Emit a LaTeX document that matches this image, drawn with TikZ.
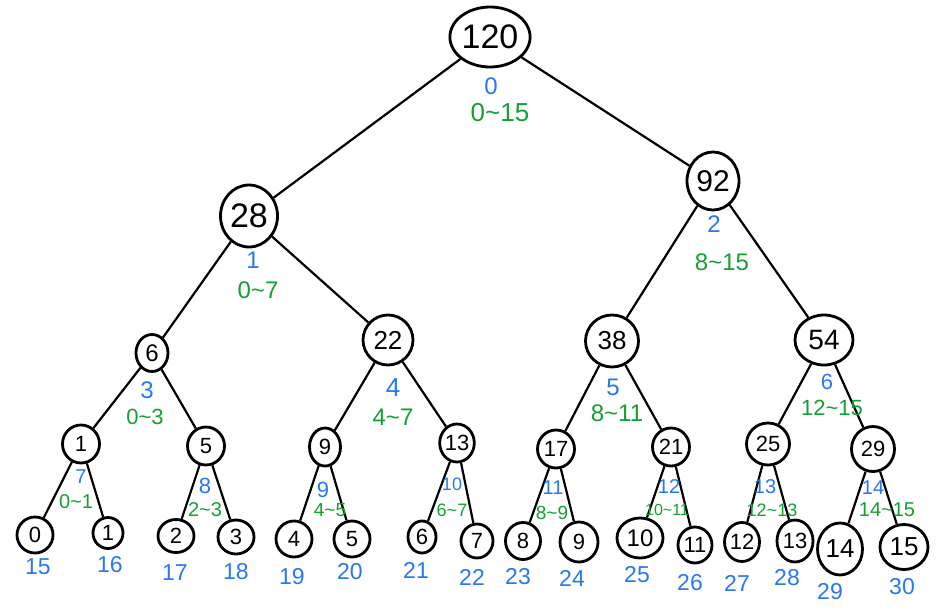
\documentclass[tikz,border=0pt]{standalone}
\usepackage{fontspec}
\setmainfont{Liberation Sans}
\usetikzlibrary{shapes.geometric}
\definecolor{idxblue}{RGB}{40,120,240}
\definecolor{rngreen}{RGB}{20,160,50}
\tikzset{
  tn/.style={draw=black, line width=2.8pt, ellipse, inner sep=0pt, text=black},
  edge/.style={draw=black, line width=2.2pt},
  idx/.style={text=idxblue, inner sep=0pt},
  rng/.style={text=rngreen, inner sep=0pt},
}
\newcommand{\tl}{\textasciitilde}
\begin{document}
\begin{tikzpicture}[x=1pt,y=-1pt]
\useasboundingbox[fill=white] (0,0) rectangle (951,608);
% level 0
\node[tn, minimum width=76pt, minimum height=60pt, font=\fontsize{34}{34}\selectfont] (n0) at (490,37) {120};
% level 1
\node[tn, minimum width=57pt, minimum height=62pt, font=\fontsize{34}{34}\selectfont] (n1) at (249,216) {28};
\node[tn, minimum width=52pt, minimum height=58pt, font=\fontsize{30}{30}\selectfont] (n2) at (713,181) {92};
% level 2
\node[tn, minimum width=32pt, minimum height=37pt, font=\fontsize{24}{24}\selectfont] (n3) at (152,353) {6};
\node[tn, minimum width=50pt, minimum height=50pt, font=\fontsize{26}{26}\selectfont] (n4) at (388,340) {22};
\node[tn, minimum width=53pt, minimum height=52pt, font=\fontsize{26}{26}\selectfont] (n5) at (612,341) {38};
\node[tn, minimum width=58pt, minimum height=50pt, font=\fontsize{28}{28}\selectfont] (n6) at (824,340) {54};
% level 3
\tikzset{l3/.style={tn, minimum width=37pt, minimum height=38pt, font=\fontsize{22}{22}\selectfont}}
\node[l3] (n7) at (81,444) {1};
\node[l3] (n8) at (206,446) {5};
\node[l3, minimum width=31pt] (n9) at (325,447) {9};
\node[l3, minimum width=28pt] (n10) at (457,443) {13};
\node[l3] (n11) at (556,449) {17};
\node[l3] (n12) at (671,447) {21};
\node[l3, minimum width=43pt, minimum height=42pt] (n13) at (768,444) {25};
\node[l3, minimum width=43pt, minimum height=45pt] (n14) at (873,449) {29};
% leaves
\tikzset{lf/.style={tn, minimum width=36pt, minimum height=36pt, font=\fontsize{22}{22}\selectfont}}
\node[lf] (n15) at (35,535) {0};
\node[lf, minimum width=30pt, minimum height=31pt] (n16) at (108,533) {1};
\node[lf, minimum height=33pt] (n17) at (176,536) {2};
\node[lf, minimum height=34pt] (n18) at (236,537) {3};
\node[lf] (n19) at (294,539) {4};
\node[lf] (n20) at (352,539) {5};
\node[lf, minimum width=28pt, minimum height=32pt] (n21) at (422,537) {6};
\node[lf, minimum width=32pt, minimum height=34pt] (n22) at (477,541) {7};
\node[lf, minimum width=35pt, minimum height=37pt] (n23) at (523,541) {8};
\node[lf, minimum width=38pt, minimum height=40pt] (n24) at (579,542) {9};
\node[lf, minimum width=46pt, minimum height=40pt, font=\fontsize{24}{24}\selectfont] (n25) at (640,538) {10};
\node[lf, minimum width=34pt] (n26) at (695,545) {11};
\node[lf, minimum width=35pt, minimum height=39pt] (n27) at (742,542) {12};
\node[lf, minimum width=36pt, minimum height=42pt] (n28) at (795,541) {13};
\node[lf, minimum width=45pt, minimum height=52pt, font=\fontsize{26}{26}\selectfont] (n29) at (840,549) {14};
\node[lf, minimum width=48pt, minimum height=45pt, font=\fontsize{26}{26}\selectfont] (n30) at (904,547) {15};
% edges
\foreach \p/\c in {0/1,0/2,1/3,1/4,2/5,2/6,3/7,3/8,4/9,4/10,5/11,5/12,6/13,6/14,
  7/15,7/16,8/17,8/18,9/19,9/20,10/21,10/22,11/23,11/24,12/25,12/26,13/27,13/28,14/29,14/30}
  \draw[edge] (n\p) -- (n\c);
% index labels (blue)
\node[idx, font=\fontsize{24}{24}\selectfont] (i0) at (491,86) {0};
\node[idx, font=\fontsize{24}{24}\selectfont] (i1) at (253,260) {1};
\node[idx, font=\fontsize{24}{24}\selectfont] (i2) at (714,224) {2};
\node[idx, font=\fontsize{24}{24}\selectfont] (i3) at (147,390) {3};
\node[idx, font=\fontsize{26}{26}\selectfont] (i4) at (393,388) {4};
\node[idx, font=\fontsize{24}{24}\selectfont] (i5) at (613,387) {5};
\node[idx, font=\fontsize{22}{22}\selectfont] (i6) at (827,382) {6};
\node[idx, font=\fontsize{20}{20}\selectfont] (i7) at (81,477) {7};
\node[idx, font=\fontsize{22}{22}\selectfont] (i8) at (205,486) {8};
\node[idx, font=\fontsize{22}{22}\selectfont] (i9) at (323,490) {9};
\node[idx, font=\fontsize{18}{18}\selectfont] (i10) at (452,484) {10};
\node[idx, font=\fontsize{20}{20}\selectfont] (i11) at (553,488) {11};
\node[idx, font=\fontsize{20}{20}\selectfont] (i12) at (669,487) {12};
\node[idx, font=\fontsize{20}{20}\selectfont] (i13) at (765,487) {13};
\node[idx, font=\fontsize{20}{20}\selectfont] (i14) at (873,488) {14};
\tikzset{lidx/.style={idx, font=\fontsize{23}{23}\selectfont}}
\node[lidx] (i15) at (38,567) {15};
\node[lidx] (i16) at (110,565) {16};
\node[lidx] (i17) at (175,573) {17};
\node[lidx] (i18) at (236,572) {18};
\node[lidx] (i19) at (292,577) {19};
\node[lidx] (i20) at (350,572) {20};
\node[lidx] (i21) at (416,570) {21};
\node[lidx] (i22) at (472,577) {22};
\node[lidx] (i23) at (518,577) {23};
\node[lidx] (i24) at (572,578) {24};
\node[lidx] (i25) at (637,575) {25};
\node[lidx] (i26) at (690,583) {26};
\node[lidx] (i27) at (737,583) {27};
\node[lidx] (i28) at (787,578) {28};
\node[lidx] (i29) at (830,592) {29};
\node[lidx] (i30) at (902,587) {30};
% range labels (green)
\node[rng, font=\fontsize{26}{26}\selectfont] (r0) at (500,113) {0\tl15};
\node[rng, font=\fontsize{24}{24}\selectfont] (r1) at (258,290) {0\tl7};
\node[rng, font=\fontsize{24}{24}\selectfont] (r2) at (722,262) {8\tl15};
\node[rng, font=\fontsize{22}{22}\selectfont] (r3) at (145,417) {0\tl3};
\node[rng, font=\fontsize{24}{24}\selectfont] (r4) at (393,417) {4\tl7};
\node[rng, font=\fontsize{24}{24}\selectfont] (r5) at (617,413) {8\tl11};
\node[rng, font=\fontsize{22}{22}\selectfont] (r6) at (832,408) {12\tl15};
\node[rng, font=\fontsize{20}{20}\selectfont] (r7) at (76,502) {0\tl1};
\node[rng, font=\fontsize{20}{20}\selectfont] (r8) at (205,510) {2\tl3};
\node[rng, font=\fontsize{19}{19}\selectfont] (r9) at (330,510) {4\tl5};
\node[rng, font=\fontsize{18}{18}\selectfont] (r10) at (452,510) {6\tl7};
\node[rng, font=\fontsize{19}{19}\selectfont] (r11) at (552,513) {8\tl9};
\node[rng, font=\fontsize{16}{16}\selectfont] (r12) at (667,510) {10\tl11};
\node[rng, font=\fontsize{18}{18}\selectfont] (r13) at (772,510) {12\tl13};
\node[rng, font=\fontsize{20}{20}\selectfont] (r14) at (887,510) {14\tl15};
\end{tikzpicture}
\end{document}
